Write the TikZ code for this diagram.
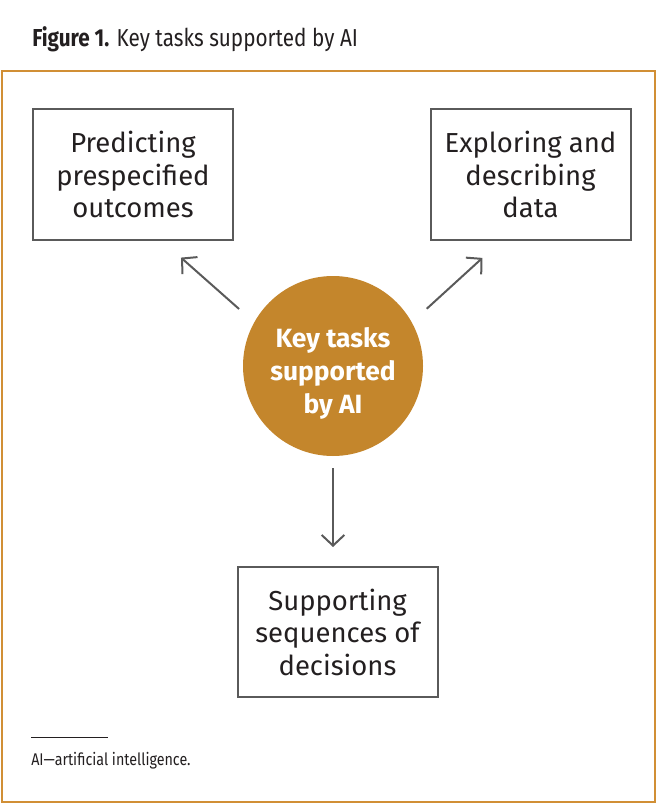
\documentclass[tikz,border=0pt]{standalone}
\usepackage{fontspec}
\setmainfont{Fira Sans}
\newfontfamily\condfont[FakeStretch=0.845]{Fira Sans}
\usetikzlibrary{arrows.meta, positioning}
\definecolor{ochre}{HTML}{C4862C}
\definecolor{framec}{HTML}{D18F35}
\definecolor{linegray}{HTML}{5A5A5A}
\definecolor{inkc}{HTML}{231F20}

\begin{document}
\begin{tikzpicture}[x=0.75pt, y=-0.75pt]

% Define styles
\tikzstyle{taskbox} = [rectangle, draw=linegray, line width=1.5pt, minimum width=150pt, minimum height=98pt, align=center, text=inkc, inner sep=0pt, font=\fontsize{20.6}{24.4}\selectfont]
\tikzstyle{hub} = [circle, fill=ochre, minimum size=135pt, inner sep=0pt]
\tikzstyle{hubtext} = [align=center, text=white, inner sep=0pt, font=\fontsize{19.8}{24.75}\selectfont\bfseries]
\tikzstyle{arrow} = [line width=1.5pt, draw=linegray, -{Straight Barb[length=8pt, width=17pt]}]
\tikzstyle{caption} = [anchor=base west, inner sep=0pt, text=inkc]

\useasboundingbox (0,0) rectangle (657,805);

% Title and frame
\node [caption, font=\condfont\fontsize{18.4}{21}\selectfont] (title) at (32,47) {\textbf{Figure 1.} Key tasks supported by AI};
\draw [framec, line width=1.5pt] (2,71) rectangle (655,802);

% Centre
\node [hub] (core) at (333,366) {};
\node [hubtext] (coretext) at ([yshift=-5.5pt]core.center) {Key tasks\\supported\\by AI};

% Tasks
\node [taskbox] (pred) at (133,174.5) {Predicting\\prespecified\\outcomes};
\node [taskbox] (expl) at (530.5,174.5) {Exploring and\\describing\\data};
\node [taskbox] (supp) at (337.5,632) {Supporting\\sequences of\\decisions};

% Arrows
\draw [arrow, shorten <=15pt, shorten >=19pt] (core.151) -- ([xshift=21.75pt]pred.south);
\draw [arrow, shorten <=15pt, shorten >=19pt] (core.29) -- ([xshift=-22pt]expl.south);
\draw [arrow, shorten <=9pt, shorten >=14pt] (core.south) -- (core.south |- supp.north);

% Footnote
\coordinate (ruleend) at (108,737);
\draw [inkc, line width=0.6pt] (31,737) -- (ruleend);
\node [caption, font=\condfont\fontsize{12.7}{15}\selectfont] (note) at (31,765) {AI—artificial intelligence.};

\end{tikzpicture}
\end{document}
